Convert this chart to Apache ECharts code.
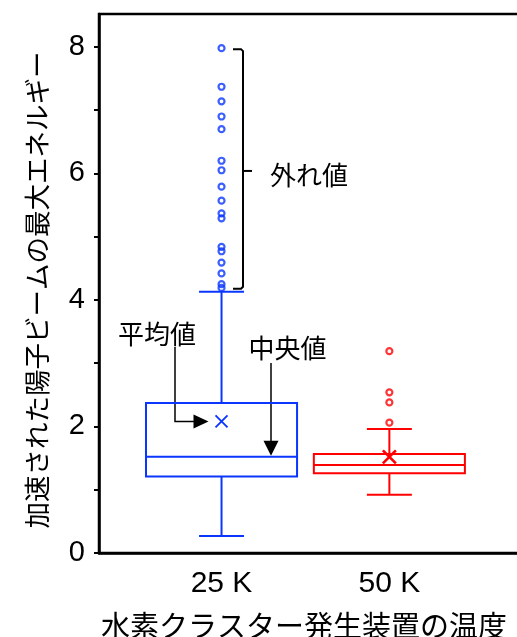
<!DOCTYPE html>
<html>
<head>
<meta charset="utf-8">
<script src="https://cdn.jsdelivr.net/npm/echarts@6/dist/echarts.min.js"></script>
<style>
  html, body { margin: 0; padding: 0; background: #fff; }
  #chart { width: 517px; height: 637px; }
</style>
</head>
<body>
<div id="chart"></div>
<script>
// Source temperatures of the hydrogen cluster generator
const categories = ['25 K', '50 K'];
const boxColors = ['#0a36ff', '#ff0000'];

// Box-plot statistics per temperature (maximum proton energy)
const whiskerLow  = [0.27, 0.92];
const quartile1   = [1.21, 1.26];
const medians     = [1.52, 1.39];
const quartile3   = [2.37, 1.565];
const whiskerHigh = [4.13, 1.96];
const means       = [2.08, 1.52];

// Points beyond the whiskers
const outliers25K = [7.98, 7.37, 7.14, 6.90, 6.70, 6.20, 6.05, 5.79, 5.57, 5.37, 5.29,
                     4.84, 4.77, 4.59, 4.42, 4.25, 4.19];
const outliers50K = [3.19, 2.54, 2.38, 2.06];

// Axis labelling
const yLabelTicks = [0, 2, 4, 6, 8];
const yMinorTicks = [0, 1, 2, 3, 4, 5, 6, 7, 8];
const yTitle = '加速された陽子ビームの最大エネルギー';
const xTitle = '水素クラスター発生装置の温度';

const LATIN = '"Liberation Sans", Arial, sans-serif';
const CJK = '"Noto Sans CJK JP", sans-serif';

const chart = echarts.init(document.getElementById('chart'), null, { renderer: 'canvas' });

const boxData = categories.map((c, i) => [
  i + 1, whiskerLow[i], quartile1[i], medians[i], quartile3[i], whiskerHigh[i], means[i]
]);

// mean marker half-size and stroke per box
const crossHalf = [6, 6.5];
const crossWidth = [1.8, 2.6];

function renderBox(params, api) {
  const i = params.dataIndex;
  const x = api.value(0);
  const lo = api.value(1), q1 = api.value(2), md = api.value(3);
  const q3 = api.value(4), hi = api.value(5), mean = api.value(6);
  const color = boxColors[i];
  const halfBox = 0.45, halfCap = 0.134;
  const tl = api.coord([x - halfBox, q3]);
  const br = api.coord([x + halfBox, q1]);
  const cx = api.coord([x, md])[0];
  const yMd = api.coord([x, md])[1];
  const yLo = api.coord([x, lo])[1];
  const yHi = api.coord([x, hi])[1];
  const capL = api.coord([x - halfCap, lo])[0];
  const capR = api.coord([x + halfCap, lo])[0];
  const m = api.coord([x, mean]);
  const s = crossHalf[i];
  const st = { stroke: color, lineWidth: 2, fill: null };
  const xst = { stroke: color, lineWidth: crossWidth[i], fill: null };
  const line = (x1, y1, x2, y2, style) => ({ type: 'line', shape: { x1, y1, x2, y2 }, style: style || st });
  return {
    type: 'group',
    children: [
      { type: 'rect', shape: { x: tl[0], y: tl[1], width: br[0] - tl[0], height: br[1] - tl[1] }, style: st },
      line(tl[0], yMd, br[0], yMd),
      line(cx, tl[1], cx, yHi),
      line(cx, br[1], cx, yLo),
      line(capL, yHi, capR, yHi),
      line(capL, yLo, capR, yLo),
      line(m[0] - s, m[1] - s, m[0] + s, m[1] + s, xst),
      line(m[0] - s, m[1] + s, m[0] + s, m[1] - s, xst)
    ]
  };
}

const outlierSeries = [outliers25K, outliers50K].map((vals, i) => ({
  type: 'scatter',
  data: vals.map(v => [i + 1, v]),
  symbol: 'circle',
  symbolSize: 6,
  itemStyle: { color: 'rgba(255,255,255,0)', borderColor: boxColors[i], borderWidth: 2.2 },
  silent: true,
  z: 3
}));

chart.setOption({
  animation: false,
  backgroundColor: '#fff',
  grid: {
    left: 99, top: 14, width: 428, height: 539,
    outerBoundsMode: 'none',
    show: true, borderColor: '#000', borderWidth: 2.5, backgroundColor: 'transparent'
  },
  xAxis: {
    type: 'value',
    min: 0.27, max: 2.82,
    axisLine: { show: true, lineStyle: { color: '#000', width: 2.5 } },
    axisTick: { show: false },
    splitLine: { show: false },
    axisLabel: {
      customValues: [1, 2],
      formatter: v => categories[Math.round(v) - 1] || '',
      color: '#000', fontSize: 30, fontFamily: LATIN, margin: 16
    }
  },
  yAxis: {
    type: 'value',
    min: 0, max: 8.52, interval: 1,
    axisLine: { show: true, lineStyle: { color: '#000', width: 2.5 } },
    axisTick: { show: true, customValues: yMinorTicks, length: 5, inside: false, lineStyle: { color: '#000', width: 2 } },
    splitLine: { show: false },
    axisLabel: {
      customValues: yLabelTicks,
      color: '#000', fontSize: 29, fontFamily: LATIN, margin: 14
    }
  },
  series: [
    {
      type: 'custom',
      renderItem: renderBox,
      data: boxData,
      encode: { x: 0, y: [1, 2, 3, 4, 5, 6] },
      silent: true,
      z: 2
    },
    ...outlierSeries
  ]
});

// Annotations: titles, outlier bracket and the mean / median pointers
const meanPt = chart.convertToPixel({ gridIndex: 0 }, [1, means[0]]);
const medPt = chart.convertToPixel({ gridIndex: 0 }, [1, medians[0]]);
const topOut = chart.convertToPixel({ gridIndex: 0 }, [1, Math.max(...outliers25K)]);
const hiWhisk = chart.convertToPixel({ gridIndex: 0 }, [1, whiskerHigh[0]]);

const ink = { stroke: '#000', lineWidth: 2, fill: null };
const bx = 243;
const bTop = topOut[1] + 1;
const bBot = hiWhisk[1] - 3;
const bMid = (bTop + bBot) / 2 + 2;

chart.setOption({
  graphic: [
    {
      type: 'text', x: 37, y: 290, rotation: Math.PI / 2,
      style: { text: yTitle, fontSize: 26.5, fontFamily: CJK, fill: '#000', align: 'center', verticalAlign: 'middle' }
    },
    {
      type: 'text', x: 304, y: 626,
      style: { text: xTitle, fontSize: 29, fontFamily: CJK, fill: '#000', align: 'center', verticalAlign: 'middle' }
    },
    // outlier bracket
    {
      type: 'polyline',
      shape: { points: [[bx - 10, bTop], [bx - 2, bTop], [bx, bTop + 2], [bx, bBot - 2], [bx - 2, bBot], [bx - 10, bBot]] },
      style: ink
    },
    { type: 'line', shape: { x1: bx, y1: bMid, x2: bx + 9, y2: bMid }, style: ink },
    {
      type: 'text', x: 270, y: bMid + 4,
      style: { text: '外れ値', fontSize: 26, fontFamily: CJK, fill: '#000', align: 'left', verticalAlign: 'middle' }
    },
    // mean pointer
    {
      type: 'text', x: 157, y: 334,
      style: { text: '平均値', fontSize: 26, fontFamily: CJK, fill: '#000', align: 'center', verticalAlign: 'middle' }
    },
    {
      type: 'polyline',
      shape: { points: [[175, 347], [175, meanPt[1]], [meanPt[0] - 26, meanPt[1]]] },
      style: { stroke: '#000', lineWidth: 1.5, fill: null }
    },
    {
      type: 'polygon',
      shape: { points: [[meanPt[0] - 28, meanPt[1] - 7], [meanPt[0] - 13, meanPt[1]], [meanPt[0] - 28, meanPt[1] + 7]] },
      style: { fill: '#000' }
    },
    // median pointer
    {
      type: 'text', x: 287.5, y: 348,
      style: { text: '中央値', fontSize: 26, fontFamily: CJK, fill: '#000', align: 'center', verticalAlign: 'middle' }
    },
    {
      type: 'line', shape: { x1: 271, y1: 363, x2: 271, y2: medPt[1] - 14 },
      style: { stroke: '#000', lineWidth: 1.5 }
    },
    {
      type: 'polygon',
      shape: { points: [[263.5, medPt[1] - 16], [278.5, medPt[1] - 16], [271, medPt[1] - 1]] },
      style: { fill: '#000' }
    }
  ]
});
</script>
</body>
</html>
